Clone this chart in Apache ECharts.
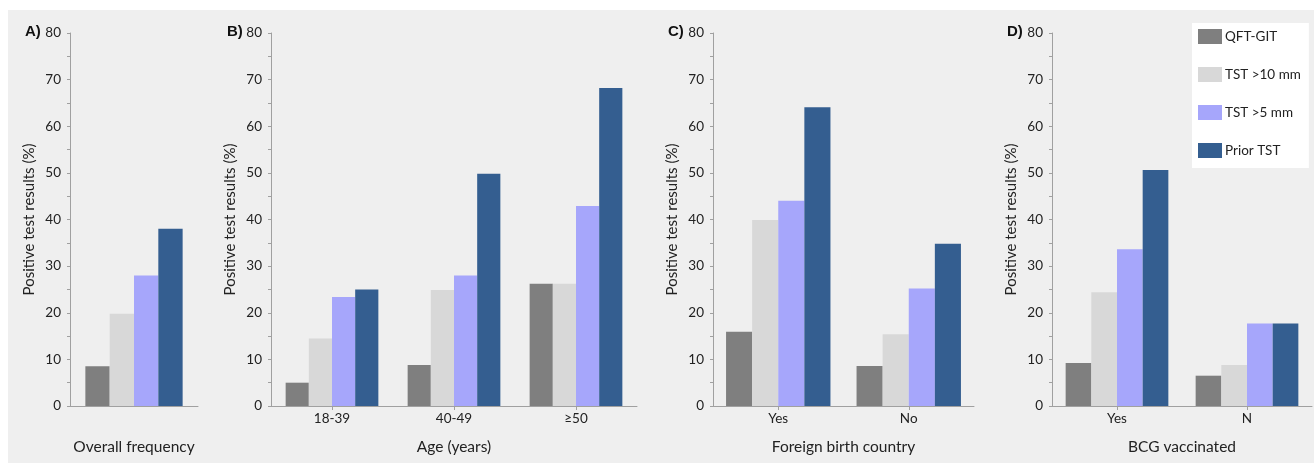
<!DOCTYPE html>
<html><head><meta charset="utf-8">
<script src="https://cdn.jsdelivr.net/npm/echarts@6/dist/echarts.min.js"></script>
<style>html,body{margin:0;padding:0;background:#fff}#c{width:1314px;height:465px}</style>
</head><body><div id="c"></div>
<script>
const seriesNames = ['QFT-GIT', 'TST >10 mm', 'TST >5 mm', 'Prior TST'];
const colors = ['#7f7f7f', '#d8d8d8', '#a6a6fb', '#345e90'];

const categoriesA = [''];
const categoriesB = ['18-39', '40-49', '≥50'];
const categoriesC = ['Yes', 'No'];
const categoriesD = ['Yes', 'N'];

const qftA = [8.5],  tst10A = [19.8], tst5A = [28.0], priorA = [38.0];
const qftB = [5.0, 8.8, 26.2], tst10B = [14.5, 24.9, 26.2], tst5B = [23.4, 28.0, 42.9], priorB = [25.0, 49.8, 68.2];
const qftC = [15.9, 8.6], tst10C = [39.9, 15.4], tst5C = [44.0, 25.2], priorC = [64.1, 34.8];
const qftD = [9.2, 6.5], tst10D = [24.4, 8.8], tst5D = [33.6, 17.7], priorD = [50.6, 17.7];

const yTicks = { min: 0, max: 80, interval: 10 };
const xTitles = ['Overall frequency', 'Age (years)', 'Foreign birth country', 'BCG vaccinated'];
const panelLabels = ['A)', 'B)', 'C)', 'D)'];

const panels = [
  { cats: categoriesA, data: [qftA, tst10A, tst5A, priorA], left: 70, right: 198, gap: '24%', ticks: false, lx: 25 },
  { cats: categoriesB, data: [qftB, tst10B, tst5B, priorB], left: 271, right: 637, gap: '24%', ticks: true, lx: 227 },
  { cats: categoriesC, data: [qftC, tst10C, tst5C, priorC], left: 713, right: 974, gap: '20%', ticks: true, lx: 668 },
  { cats: categoriesD, data: [qftD, tst10D, tst5D, priorD], left: 1052, right: 1312, gap: '21%', ticks: true, lx: 1007 }
];

const font = 'Lato, "Open Sans", sans-serif';
const axisColor = '#a0a0a0';
const grid = [], xAxis = [], yAxis = [], series = [], graphic = [];

graphic.push({ type: 'rect', left: 8, top: 10, shape: { width: 1306, height: 453 }, style: { fill: '#efefef' }, z: -10, silent: true });

panels.forEach((p, i) => {
  grid.push({ left: p.left, width: p.right - p.left, top: 33, height: 373, containLabel: false });
  xAxis.push({
    type: 'category', gridIndex: i, data: p.cats,
    axisLine: { lineStyle: { color: axisColor, width: 1 } },
    axisTick: { show: p.ticks, alignWithLabel: true, length: 4, lineStyle: { color: axisColor } },
    axisLabel: { color: '#222', fontSize: 13.5, fontFamily: font, margin: 6 },
    name: xTitles[i], nameLocation: 'middle', nameGap: 33,
    nameTextStyle: { color: '#222', fontSize: 15.5, fontFamily: font }
  });
  yAxis.push({
    type: 'value', gridIndex: i, min: yTicks.min, max: yTicks.max, interval: yTicks.interval,
    axisLine: { show: true, lineStyle: { color: axisColor, width: 1 } },
    axisTick: { show: true, length: 3, lineStyle: { color: axisColor } },
    minorTick: { show: true, splitNumber: 2, length: 3, lineStyle: { color: axisColor } },
    splitLine: { show: false },
    axisLabel: { color: '#222', fontSize: 13.5, fontFamily: font, margin: 9 },
    name: 'Positive test results (%)', nameLocation: 'middle', nameGap: 33, nameRotate: 90,
    nameTextStyle: { color: '#222', fontSize: 15, fontFamily: font }
  });
  p.data.forEach((d, k) => {
    series.push({
      type: 'bar', name: seriesNames[k], xAxisIndex: i, yAxisIndex: i, data: d,
      barGap: '0%', barCategoryGap: p.gap,
      itemStyle: { color: colors[k] }, emphasis: { disabled: true }
    });
  });
  graphic.push({ type: 'text', left: p.lx, top: 24, style: { text: panelLabels[i], font: 'bold 15px "Liberation Sans", Arial, sans-serif', fill: '#111' } });
});

const chart = echarts.init(document.getElementById('c'), null, { renderer: 'canvas' });
chart.setOption({
  backgroundColor: '#ffffff',
  animation: false,
  grid, xAxis, yAxis, series, graphic,
  legend: {
    data: seriesNames, orient: 'vertical', left: 1192, top: 23,
    backgroundColor: '#ffffff', padding: [6, 8, 10, 6],
    itemWidth: 24, itemHeight: 15, itemGap: 23, icon: 'rect',
    textStyle: { color: '#222', fontSize: 13.5, fontFamily: font, padding: [0, 0, 0, -2] }
  }
});
</script></body></html>
